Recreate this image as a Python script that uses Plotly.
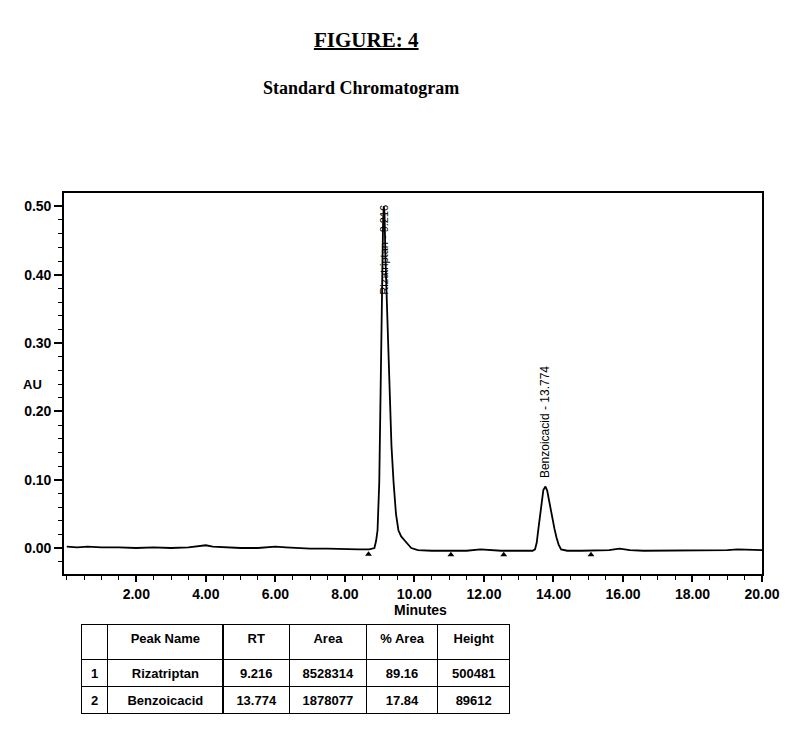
import plotly.graph_objects as go

# ---- chromatogram trace ----
time_min = [0.0, 0.3, 0.6, 1.0, 1.5, 2.0, 2.5, 3.0, 3.5, 3.8, 4.0, 4.2, 4.6, 5.0,
            5.5, 6.0, 6.3, 6.6, 7.0, 7.5, 8.0, 8.4, 8.7, 8.85, 8.90, 8.94, 8.99,
            9.03, 9.05, 9.08, 9.10, 9.12, 9.14, 9.17, 9.22, 9.28, 9.34, 9.40,
            9.47, 9.54, 9.62, 9.72, 9.82, 9.91, 10.1, 10.5, 11.0, 11.5, 11.9,
            12.1, 12.5, 12.9, 13.2, 13.4, 13.47, 13.52, 13.56, 13.61, 13.66,
            13.71, 13.77, 13.82, 13.88, 13.96, 14.03, 14.09, 14.15, 14.22, 14.4,
            14.8, 15.2, 15.6, 15.9, 16.2, 16.6, 17.0, 17.5, 18.0, 18.5, 19.0,
            19.3, 19.6, 20.0]
absorbance = [0.002, 0.001, 0.002, 0.001, 0.001, 0.000, 0.001, 0.000, 0.001,
              0.003, 0.004, 0.002, 0.001, 0.000, 0.000, 0.002, 0.001, 0.000,
              -0.001, -0.001, -0.002, -0.002, -0.002, 0.000, 0.011, 0.026,
              0.097, 0.240, 0.330, 0.430, 0.480, 0.500, 0.490, 0.420, 0.330,
              0.240, 0.150, 0.097, 0.050, 0.026, 0.017, 0.011, 0.005, 0.000,
              -0.003, -0.004, -0.004, -0.004, -0.002, -0.003, -0.004, -0.004,
              -0.004, -0.004, -0.002, 0.008, 0.025, 0.045, 0.068, 0.085, 0.090,
              0.084, 0.068, 0.045, 0.028, 0.015, 0.005, -0.002, -0.004, -0.004,
              -0.004, -0.003, -0.001, -0.003, -0.004, -0.004, -0.003, -0.004,
              -0.003, -0.003, -0.002, -0.002, -0.003]

# integration baseline markers
marker_times = [8.68, 11.05, 12.57, 15.08]
marker_au = [-0.009, -0.010, -0.010, -0.010]

# peak labels
label_texts = ["Rizatriptan - 9.216", "Benzoicacid - 13.774"]
label_times = [9.12, 13.74]
label_au = [0.505, 0.100]

# axis ticks
x_ticks = [2, 4, 6, 8, 10, 12, 14, 16, 18, 20]
x_tick_labels = ["2.00", "4.00", "6.00", "8.00", "10.00", "12.00", "14.00",
                 "16.00", "18.00", "20.00"]
y_ticks = [0.0, 0.1, 0.2, 0.3, 0.4, 0.5]
y_tick_labels = ["0.00", "0.10", "0.20", "0.30", "0.40", "0.50"]

# results table
table_header = ["", "Peak Name", "RT", "Area", "% Area", "Height"]
peak_no = ["1", "2"]
peak_names = ["Rizatriptan", "Benzoicacid"]
peak_rt = ["9.216", "13.774"]
peak_area = ["8528314", "1878077"]
peak_pct_area = ["89.16", "17.84"]
peak_height = ["500481", "89612"]

SANS = "Liberation Sans, Arial, sans-serif"
SERIF = "Liberation Serif, Times New Roman, serif"

fig = go.Figure()
fig.add_trace(go.Scatter(x=time_min, y=absorbance, mode="lines",
                         line=dict(color="black", width=1.8), showlegend=False,
                         hoverinfo="skip"))
fig.add_trace(go.Scatter(x=marker_times, y=marker_au, mode="markers",
                         marker=dict(symbol="triangle-up", size=6, color="black"),
                         showlegend=False, hoverinfo="skip"))

fig.add_trace(go.Table(
    domain=dict(x=[0.0255, 0.639], y=[0.0, 0.179]),
    columnwidth=[26, 117, 67, 78, 72, 73],
    header=dict(values=table_header, height=35, align="center",
                fill_color="white", line=dict(color="black", width=1.3),
                font=dict(family=SANS, size=13, color="black", weight="bold")),
    cells=dict(values=[peak_no, peak_names, peak_rt, peak_area, peak_pct_area,
                       peak_height],
               height=27, align="center", fill_color="white",
               line=dict(color="black", width=1.3),
               font=dict(family=SANS, size=13, color="black", weight="bold")),
))

annotations = []
annotations.append(dict(x=label_times[0], y=label_au[0], xref="x", yref="y",
                        text=label_texts[0], textangle=-90, showarrow=False,
                        yanchor="top", xanchor="center",
                        font=dict(family=SANS, size=11, color="black")))
annotations.append(dict(x=label_times[1], y=label_au[1], xref="x", yref="y",
                        text=label_texts[1], textangle=-90, showarrow=False,
                        yanchor="bottom", xanchor="center",
                        font=dict(family=SANS, size=12, color="black")))
annotations.append(dict(x=-0.045, y=0.635, xref="paper", yref="paper", text="AU",
                        showarrow=False, xanchor="center", yanchor="middle",
                        font=dict(family=SANS, size=13, color="black", weight="bold")))
annotations.append(dict(x=0.511, y=0.207, xref="paper", yref="paper", text="Minutes",
                        showarrow=False, xanchor="center", yanchor="middle",
                        font=dict(family=SANS, size=14, color="black", weight="bold")))
annotations.append(dict(x=0.433, y=1.291, xref="paper", yref="paper", text="FIGURE: 4",
                        showarrow=False, xanchor="center", yanchor="middle",
                        font=dict(family=SERIF, size=21, color="black", weight="bold")))
annotations.append(dict(x=0.426, y=1.1996, xref="paper", yref="paper",
                        text="Standard Chromatogram", showarrow=False,
                        xanchor="center", yanchor="middle",
                        font=dict(family=SERIF, size=18, color="black", weight="bold")))

fig.update_layout(
    width=792, height=749,
    margin=dict(l=64, r=22, t=193, b=30),
    paper_bgcolor="white", plot_bgcolor="white",
    annotations=annotations,
    shapes=[dict(type="line", xref="paper", yref="paper", x0=0.358, x1=0.508,
                 y0=1.274, y1=1.274, line=dict(color="black", width=2))],
    xaxis=dict(range=[-0.08, 20.0], domain=[0, 1], showgrid=False, zeroline=False,
               showline=True, linecolor="black", linewidth=1.6, mirror=True,
               ticks="outside", ticklen=6, tickcolor="black", tickwidth=1.5,
               tickvals=x_ticks, ticktext=x_tick_labels,
               minor=dict(dtick=0.5, tick0=0, ticks="outside", ticklen=4,
                          tickcolor="black", tickwidth=1),
               tickfont=dict(family=SANS, size=14, color="black", weight="bold")),
    yaxis=dict(range=[-0.038, 0.5195], domain=[0.2757, 1], showgrid=False,
               zeroline=False, showline=True, linecolor="black", linewidth=1.6,
               mirror=True, ticks="outside", ticklen=8, tickcolor="black",
               tickwidth=1.5, tickvals=y_ticks, ticktext=y_tick_labels,
               minor=dict(dtick=0.02, tick0=0, ticks="outside", ticklen=4,
                          tickcolor="black", tickwidth=1),
               tickfont=dict(family=SANS, size=14, color="black", weight="bold")),
)

fig.write_html("out.html",
               config={"displayModeBar": False},
               post_script="document.body.style.margin='0';"
                           "document.body.style.overflow='hidden';")
